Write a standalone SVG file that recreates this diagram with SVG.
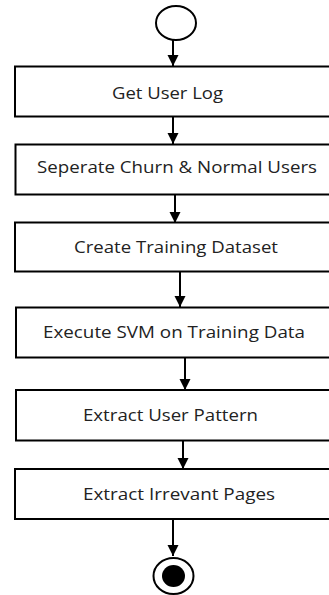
<svg xmlns="http://www.w3.org/2000/svg" width="329" height="595" viewBox="0 0 329 595">
<style>
.box{fill:#fff;stroke:#000;stroke-width:2}
.lbl{font-family:"Open Sans","Liberation Sans",sans-serif;font-size:15.5px;fill:#222;text-anchor:middle}
.conn{stroke:#000;stroke-width:2;fill:none;marker-end:url(#ah)}
</style>
<defs>
<marker id="ah" markerUnits="userSpaceOnUse" markerWidth="12" markerHeight="12" viewBox="0 0 12 12" refX="11" refY="6" orient="auto">
<path d="M0,0.5 L11,6 L0,11.5 Z" fill="#000"/>
</marker>
</defs>
<rect width="329" height="595" fill="#fff"/>
<g id="connectors">
<line class="conn" x1="173" y1="40" x2="173" y2="66"/>
<line class="conn" x1="173" y1="117" x2="173" y2="144"/>
<line class="conn" x1="175" y1="194" x2="175" y2="223"/>
<line class="conn" x1="180" y1="272" x2="180" y2="307"/>
<line class="conn" x1="185" y1="358" x2="185" y2="390"/>
<line class="conn" x1="183" y1="441" x2="183" y2="469"/>
<line class="conn" x1="173" y1="519" x2="173" y2="556"/>
</g>
<g id="start"><ellipse cx="176" cy="23" rx="20" ry="17" fill="#fff" stroke="#000" stroke-width="2"/></g>
<g id="n1"><rect class="box" x="15" y="66.5" width="330" height="50"/><text class="lbl" x="167.5" y="99" textLength="111" lengthAdjust="spacingAndGlyphs">Get User Log</text></g>
<g id="n2"><rect class="box" x="15.5" y="144.5" width="330" height="50"/><text class="lbl" x="177" y="173" textLength="280" lengthAdjust="spacingAndGlyphs">Seperate Churn &amp; Normal Users</text></g>
<g id="n3"><rect class="box" x="15" y="222.5" width="330" height="49"/><text class="lbl" x="176" y="252.5" textLength="204" lengthAdjust="spacingAndGlyphs">Create Training Dataset</text></g>
<g id="n4"><rect class="box" x="16" y="307.5" width="330" height="50"/><text class="lbl" x="174" y="338" textLength="262" lengthAdjust="spacingAndGlyphs">Execute SVM on Training Data</text></g>
<g id="n5"><rect class="box" x="16" y="390" width="330" height="50.5"/><text class="lbl" x="170.5" y="421" textLength="175" lengthAdjust="spacingAndGlyphs">Extract User Pattern</text></g>
<g id="n6"><rect class="box" x="15" y="469" width="330" height="50"/><text class="lbl" x="179" y="500" textLength="192" lengthAdjust="spacingAndGlyphs">Extract Irrevant Pages</text></g>
<g id="end"><ellipse cx="173.5" cy="576" rx="20" ry="18" fill="#fff" stroke="#000" stroke-width="2"/><ellipse cx="173.5" cy="576" rx="11.5" ry="11" fill="#000"/></g>
</svg>
